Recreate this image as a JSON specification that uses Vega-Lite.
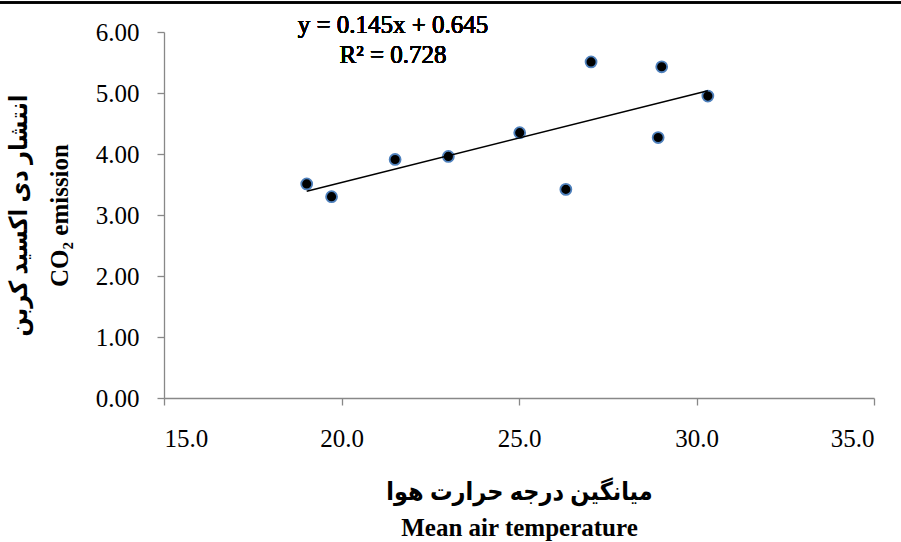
{
  "$schema": "https://vega.github.io/schema/vega-lite/v6.json",
  "width": 710,
  "height": 366,
  "autosize": "none",
  "padding": {"left": 164, "top": 32, "right": 27, "bottom": 144},
  "background": "white",
  "config": {
    "view": {"stroke": null},
    "font": "Liberation Serif",
    "axis": {
      "domainColor": "#888888",
      "domainWidth": 1.3,
      "tickColor": "#888888",
      "tickWidth": 1.3,
      "tickSize": 7,
      "grid": false,
      "labelFont": "Liberation Serif",
      "labelFontSize": 25,
      "labelFontWeight": "normal",
      "labelColor": "black",
      "titleFont": "Liberation Serif, DejaVu Sans Condensed, DejaVu Sans",
      "titleFontSize": 25,
      "titleFontWeight": "bold",
      "titleColor": "black"
    }
  },
  "data": {
    "values": [
      {"temp": 19.02, "co2": 3.51},
      {"temp": 19.72, "co2": 3.30},
      {"temp": 21.51, "co2": 3.91},
      {"temp": 23.01, "co2": 3.96},
      {"temp": 25.02, "co2": 4.35},
      {"temp": 26.32, "co2": 3.42},
      {"temp": 27.03, "co2": 5.51},
      {"temp": 28.92, "co2": 4.27},
      {"temp": 29.02, "co2": 5.43},
      {"temp": 30.32, "co2": 4.95}
    ]
  },
  "layer": [
    {
      "mark": {"type": "circle", "fill": "black", "fillOpacity": 1, "stroke": "#4f81bd", "strokeWidth": 1.8, "size": 120},
      "encoding": {
        "x": {
          "field": "temp", "type": "quantitative",
          "scale": {"domain": [15, 35], "nice": false, "zero": false},
          "axis": {
            "values": [15, 20, 25, 30, 35], "format": ".1f",
            "labelPadding": 21, "titlePadding": 28, "titleLineHeight": 36,
            "title": ["میانگین درجه حرارت هوا", "Mean air temperature"]
          }
        },
        "y": {
          "field": "co2", "type": "quantitative",
          "scale": {"domain": [0, 6], "nice": false, "zero": false},
          "axis": {
            "values": [0, 1, 2, 3, 4, 5, 6], "format": ".2f",
            "labelPadding": 18, "titlePadding": 23, "titleLineHeight": 41,
            "title": ["انتشار دی اکسید کربن", "CO₂ emission"]
          }
        }
      }
    },
    {
      "transform": [{"regression": "co2", "on": "temp"}],
      "mark": {"type": "line", "color": "black", "strokeWidth": 1.5},
      "encoding": {
        "x": {"field": "temp", "type": "quantitative", "scale": {"domain": [15, 35]}},
        "y": {"field": "co2", "type": "quantitative", "scale": {"domain": [0, 6]}}
      }
    },
    {
      "mark": {"type": "text", "fontSize": 25, "font": "Liberation Serif", "fontWeight": "normal", "align": "center", "baseline": "alphabetic", "lineHeight": 30, "clip": false, "color": "black"},
      "encoding": {
        "x": {"datum": 21.45, "type": "quantitative"},
        "y": {"datum": 5.984, "type": "quantitative"},
        "text": {"value": ["y = 0.145x + 0.645", "R² = 0.728"]}
      }
    },
    {
      "mark": {"type": "rule", "color": "black", "strokeWidth": 1.5, "clip": false},
      "encoding": {
        "x": {"datum": 10.38, "type": "quantitative"},
        "x2": {"datum": 35.77},
        "y": {"datum": 6.484, "type": "quantitative"}
      }
    }
  ]
}
